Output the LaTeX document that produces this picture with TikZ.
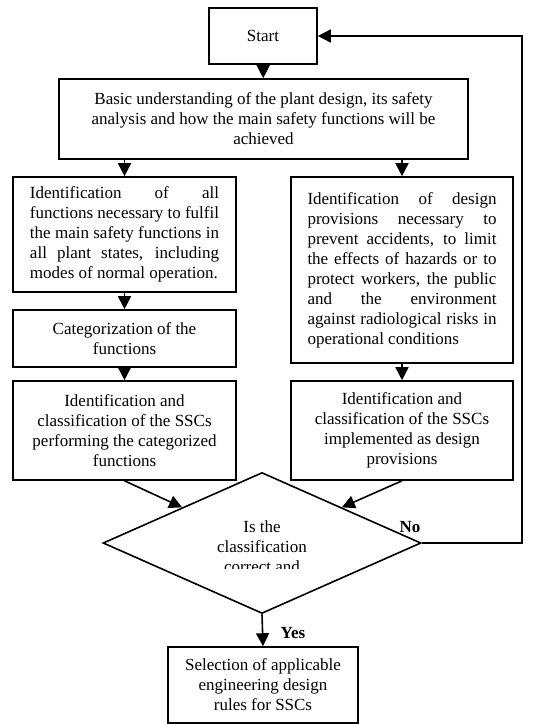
\documentclass[tikz,border=0pt]{standalone}
\usepackage{fontspec}
\setmainfont{Liberation Serif}
\usetikzlibrary{positioning,shapes.geometric,arrows.meta}

\begin{document}
\begin{tikzpicture}[x=1pt,y=1pt,
  txt/.style={font={\fontsize{17}{20}\selectfont\hyphenpenalty=10000\relax}},
  box/.style={draw,line width=1.6pt,inner sep=0pt,align=center,txt},
  jbox/.style={box,text width=189pt,align=justify},
  decision/.style={draw,diamond,line width=1.6pt,inner sep=0pt},
  arr/.style={line width=1.6pt,-{Triangle[width=13pt,length=13pt]}},
  lbl/.style={font=\fontsize{17}{20}\selectfont\bfseries}]
  \useasboundingbox (0,0) rectangle (533,-724);
  \node[box,minimum width=108pt,minimum height=56pt] (start) at (263,-36) {Start};
  \node[box,minimum width=409pt,minimum height=80pt] (basic) at (263.5,-119)
    {Basic understanding of the plant design, its safety\\analysis and how the main safety functions will be\\achieved};
  \node[jbox,minimum width=223pt,minimum height=115pt] (funcs) at (124.5,-234.5)
    {Identification of all\linebreak functions necessary to fulfil\linebreak the main safety functions in\linebreak all plant states, including\linebreak modes of normal operation.};
  \node[jbox,minimum width=222pt,minimum height=186pt] (prov) at (402,-270)
    {Identification of design\linebreak provisions necessary to\linebreak prevent accidents, to limit\linebreak the effects of hazards or to\linebreak protect workers, the public\linebreak and the environment\linebreak against radiological risks in\linebreak operational conditions};
  \node[box,minimum width=223pt,minimum height=57pt] (cat) at (124.5,-338.5)
    {Categorization of the\\functions};
  \node[box,minimum width=223pt,minimum height=99pt] (sscl) at (124.5,-430.5)
    {Identification and\\classification of the SSCs\\performing the categorized\\functions};
  \node[box,minimum width=222pt,minimum height=99pt] (sscr) at (402,-430.5)
    {Identification and\\classification of the SSCs\\implemented as design\\provisions};
  \node[decision,minimum width=318pt,minimum height=141pt] (check) at (262,-543) {};
  \begin{scope}
    \clip (103,-470) rectangle (421,-568);
    \node[txt,align=center] (q) at (262,-547) {Is the\\classification\\correct and};
  \end{scope}
  \node[box,minimum width=190pt,minimum height=76pt] (rules) at (263,-685)
    {Selection of applicable\\engineering design\\rules for SSCs};
  \node[lbl] (no) at (410,-527) {No};
  \node[lbl] (yes) at (293,-633) {Yes};
  \coordinate (corner) at (522,-543);
  \draw[arr] (start) -- (basic);
  \draw[arr] (funcs.north |- basic.south) -- (funcs.north);
  \draw[arr] (prov.north |- basic.south) -- (prov.north);
  \draw[arr] (funcs) -- (cat);
  \draw[arr] (cat) -- (sscl);
  \draw[arr] (prov) -- (sscr);
  \draw[arr] (sscl.south) -- (check.north west);
  \draw[arr] (sscr.south) -- (check.north east);
  \draw[arr] (check.east) -- (corner) |- (start.east);
  \draw[arr] (check.south) -- (rules.north);
\end{tikzpicture}
\end{document}
